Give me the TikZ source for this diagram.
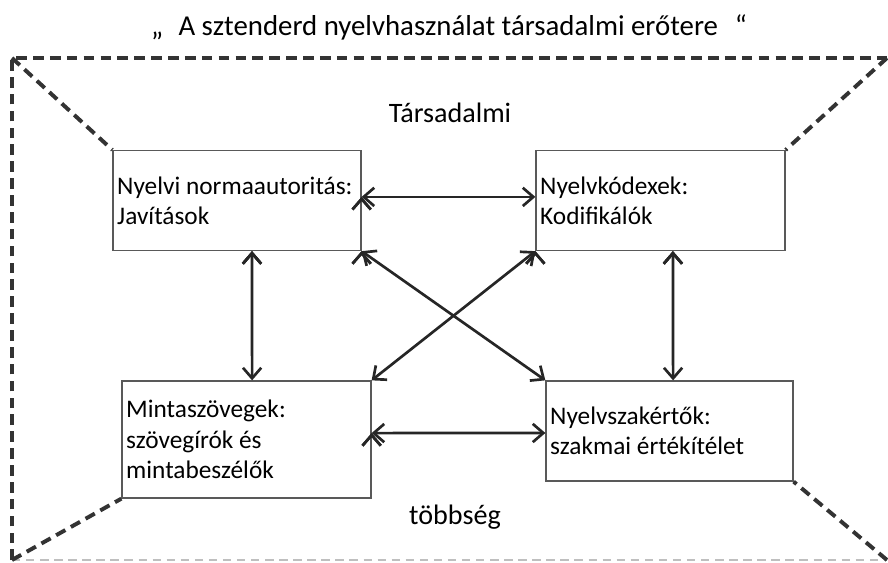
\documentclass[tikz,border=0pt]{standalone}
\usepackage{fontspec}
\setmainfont{Carlito}
\usepackage{tikz}
\usetikzlibrary{arrows.meta}

\begin{document}
\begin{tikzpicture}[x=0.025cm,y=-0.025cm,
    font=\fontsize{18}{21.5}\selectfont,
    agent/.style={draw=black!65,line width=0.9pt,rectangle,align=flush left,inner xsep=3pt,inner ysep=3pt,
                  minimum width=#1*0.025cm,text width=#1*0.025cm-6pt},
    frame/.style={draw=black!80,line width=2.8pt,dash pattern=on 7.5pt off 4.5pt},
    link/.style={draw=black!85,line width=1.9pt,{Straight Barb[length=7.5pt,width=13pt]}-{Straight Barb[length=7.5pt,width=13pt]}}]
  \useasboundingbox (0,0) rectangle (888,563);

  \draw (449,27) node[font=\fontsize{20.5}{24}\selectfont] (title) {„\hspace{11pt}A sztenderd nyelvhasználat társadalmi erőtere\hspace{12pt}“};
  \draw (450,113) node[font=\fontsize{20}{24}\selectfont] (tars) {Társadalmi};
  \draw (455,517) node[font=\fontsize{20}{24}\selectfont] (tobb) {többség};

  \draw (237,200.5) node[agent=248,minimum height=2.5cm] (norma) {Nyelvi normaautoritás:\\Javítások};
  \draw (660.5,200.5) node[agent=249,minimum height=2.5cm] (kodex) {Nyelvkódexek:\\Kodifikálók};
  \draw (246.5,439.5) node[agent=249,minimum height=2.925cm] (minta) {Mintaszövegek:\\szövegírók és\\mintabeszélők};
  \draw (669.5,431) node[agent=247,minimum height=2.5cm] (szak) {Nyelvszakértők:\\szakmai értékítélet};

  % outer frame
  \coordinate (tl) at (12,58);
  \coordinate (tr) at (887,58);
  \coordinate (bl) at (12,560);
  \coordinate (br) at (887,560);
  \draw[frame] (bl) -- (tl) -- (tr);
  \draw[draw=black!25,line width=0.9pt,dash pattern=on 6pt off 4pt] (bl) -- (br);
  \draw[frame] (tl) -- (norma.north west);
  \draw[frame] (tr) -- (kodex.north east);
  \draw[frame] (bl) -- (minta.south west);
  \draw[frame] (br) -- (szak.south east);

  % arrows
  \path[link] ([yshift=0.09cm]norma.east) edge ([yshift=0.09cm]kodex.west);
  \path[link] ([yshift=0.16cm]minta.east) edge ([yshift=-0.05cm]szak.west);
  \path[link] ([xshift=0.375cm]norma.south) edge ([xshift=0.14cm]minta.north);
  \path[link] ([xshift=0.31cm]kodex.south) edge ([xshift=0.09cm]szak.north);
  \path[link] (norma.south east) edge (szak.north west);
  \path[link] (kodex.south west) edge (minta.north east);

\end{tikzpicture}
\end{document}
